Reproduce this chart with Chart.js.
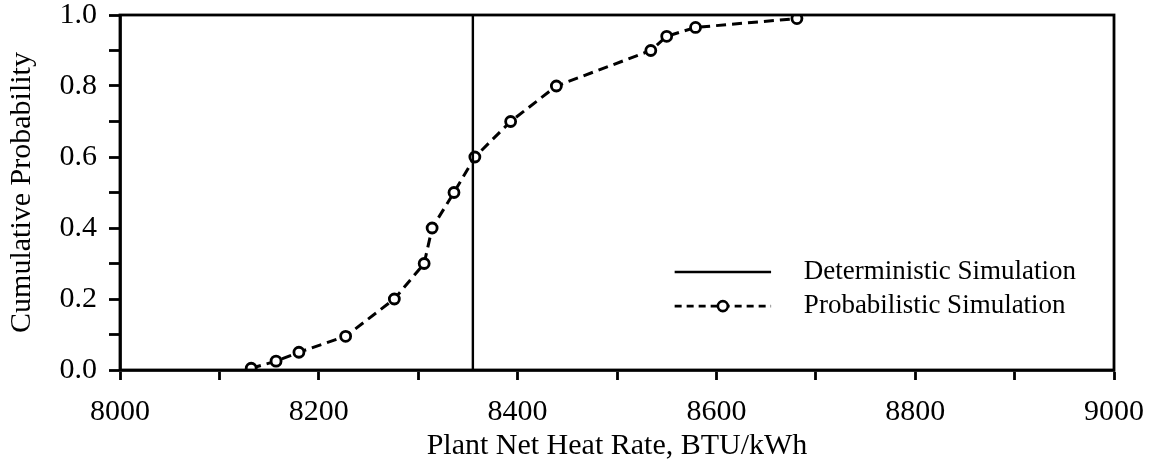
<!DOCTYPE html>
<html>
<head>
<meta charset="utf-8">
<script src="https://cdn.jsdelivr.net/npm/chart.js@4"></script>
<style>
  html, body { margin: 0; padding: 0; background: #fff; }
  #wrap { width: 1149px; height: 467px; }
</style>
</head>
<body>
<div id="wrap"><canvas id="cdfChart" width="1149" height="467"></canvas></div>
<script>
// probabilistic simulation (heat rate vs cumulative probability)
var heatRate = [8132, 8157, 8180, 8227, 8276, 8306, 8314, 8336, 8357, 8393, 8439, 8534, 8550, 8579, 8681];
var cumProb  = [0.005, 0.025, 0.05, 0.095, 0.2, 0.3, 0.4, 0.5, 0.6, 0.7, 0.8, 0.9, 0.94, 0.965, 0.99];
// deterministic simulation result
var detHeatRate = 8355;
var detProb = [0, 1];
var xTicks = [8000, 8200, 8400, 8600, 8800, 9000];
var yTicks = [0.0, 0.2, 0.4, 0.6, 0.8, 1.0];
var legendLabels = ["Deterministic Simulation", "Probabilistic Simulation"];

var serif = "'Liberation Serif', 'Times New Roman', serif";

var probPoints = heatRate.map(function (h, i) { return { x: h, y: cumProb[i] }; });
var detPoints = detProb.map(function (p) { return { x: detHeatRate, y: p }; });

// box round the plot area + legend inside it
var frameAndLegend = {
  id: 'frameAndLegend',
  afterDraw: function (chart) {
    var ctx = chart.ctx, a = chart.chartArea;
    var w = a.right - a.left, h = a.bottom - a.top;
    ctx.save();
    ctx.strokeStyle = '#000';
    ctx.lineWidth = 2.8;
    ctx.strokeRect(a.left, a.top, w, h);

    var lx0 = a.left + w * 0.558, lx1 = a.left + w * 0.655;
    var tx = a.left + w * 0.688;
    var y1 = a.top + h * 0.724, y2 = a.top + h * 0.82;
    ctx.lineWidth = 2.6;
    ctx.beginPath(); ctx.moveTo(lx0, y1); ctx.lineTo(lx1, y1); ctx.stroke();
    ctx.setLineDash([7, 5]);
    ctx.beginPath(); ctx.moveTo(lx0, y2); ctx.lineTo(lx1, y2); ctx.stroke();
    ctx.setLineDash([]);
    ctx.beginPath(); ctx.arc((lx0 + lx1) / 2, y2, 5, 0, Math.PI * 2);
    ctx.fillStyle = '#fff'; ctx.fill(); ctx.stroke();

    ctx.fillStyle = '#000';
    ctx.font = '27px ' + serif;
    ctx.textBaseline = 'middle';
    ctx.fillText(legendLabels[0], tx, y1);
    ctx.fillText(legendLabels[1], tx, y2);
    ctx.restore();
  }
};

new Chart(document.getElementById('cdfChart').getContext('2d'), {
  type: 'scatter',
  data: {
    datasets: [{
      label: legendLabels[0],
      data: detPoints,
      showLine: true,
      borderColor: '#000',
      borderWidth: 2.4,
      pointRadius: 0
    }, {
      label: legendLabels[1],
      data: probPoints,
      showLine: true,
      borderColor: '#000',
      borderWidth: 3,
      borderDash: [10, 6],
      pointRadius: 5,
      pointBorderWidth: 2.8,
      pointBackgroundColor: '#fff',
      pointBorderColor: '#000'
    }]
  },
  options: {
    responsive: false,
    animation: false,
    layout: { padding: { top: 15, right: 35, left: 0, bottom: 0 } },
    plugins: { legend: { display: false }, tooltip: { enabled: false } },
    scales: {
      x: {
        type: 'linear',
        min: 8000, max: 9000,
        afterFit: function (s) { s.height = 97; s.paddingLeft = 0; s.paddingRight = 0; },
        ticks: {
          stepSize: 100,
          autoSkip: false,
          maxRotation: 0,
          padding: 14,
          color: '#000',
          font: { family: serif, size: 30 },
          callback: function (v) { return xTicks.indexOf(v) >= 0 ? String(v) : ''; }
        },
        grid: { drawOnChartArea: false, tickLength: 10, tickWidth: 2.8, tickColor: '#000' },
        border: { color: '#000', width: 2.8 },
        title: {
          display: true,
          text: 'Plant Net Heat Rate, BTU/kWh',
          color: '#000',
          font: { family: serif, size: 30 },
          padding: { top: 0, bottom: 3 }
        }
      },
      y: {
        min: 0, max: 1,
        afterFit: function (s) { s.width = 120; s.paddingTop = 0; s.paddingBottom = 0; },
        ticks: {
          stepSize: 0.1,
          autoSkip: false,
          padding: 12,
          color: '#000',
          font: { family: serif, size: 30 },
          callback: function (v) {
            var r = Math.round(v * 10) / 10;
            return yTicks.some(function (t) { return Math.abs(t - r) < 1e-6; }) ? r.toFixed(1) : '';
          }
        },
        grid: { drawOnChartArea: false, tickLength: 11, tickWidth: 2.8, tickColor: '#000' },
        border: { color: '#000', width: 2.8 },
        title: {
          display: true,
          text: 'Cumulative Probability',
          color: '#000',
          font: { family: serif, size: 30 },
          padding: { top: 4, bottom: 0 }
        }
      }
    }
  },
  plugins: [frameAndLegend]
});
</script>
</body>
</html>
